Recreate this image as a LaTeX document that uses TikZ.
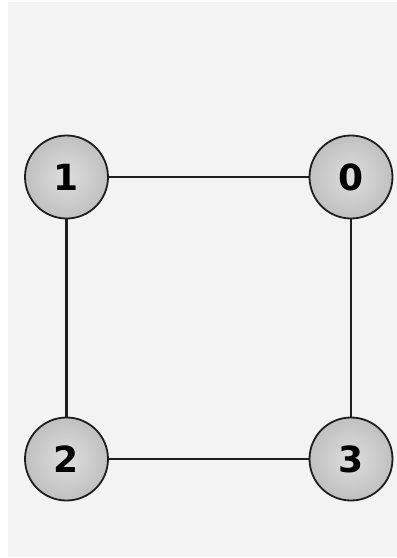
\documentclass[tikz,border=0pt]{standalone}
\usepackage{fontspec}
\newfontfamily\digitfont{DejaVu Sans}
\usetikzlibrary{positioning,calc}

\definecolor{bgpaper}{RGB}{243,243,243}
\definecolor{ballin}{RGB}{222,222,222}
\definecolor{ballout}{RGB}{192,192,192}
\definecolor{inkline}{RGB}{30,30,30}

\begin{document}
\begin{tikzpicture}[
    x=1pt, y=-1pt,
    vertex/.style={draw=inkline, circle, line width=1.8pt, minimum size=83pt, inner sep=0pt,
        inner color=ballin, outer color=ballout, font=\digitfont\bfseries\fontsize{36}{36}\selectfont},
    edge/.style={draw=inkline, line width=2.2pt}
]

% Background
\useasboundingbox (0,0) rectangle (397,558);
\fill[bgpaper] (8,2) rectangle (397,557);

% Vertices
\node[vertex] (N1) at (66.5, 177) {1};
\node[vertex] (N0) at (351, 177) {0};
\node[vertex] (N2) at (66.5, 459) {2};
\node[vertex] (N3) at (351, 459) {3};

% Edges
\path[edge] (N1) -- (N0);
\path[edge] (N1) -- (N2);
\path[edge] (N2) -- (N3);
\path[edge] (N0) -- (N3);

\end{tikzpicture}
\end{document}
